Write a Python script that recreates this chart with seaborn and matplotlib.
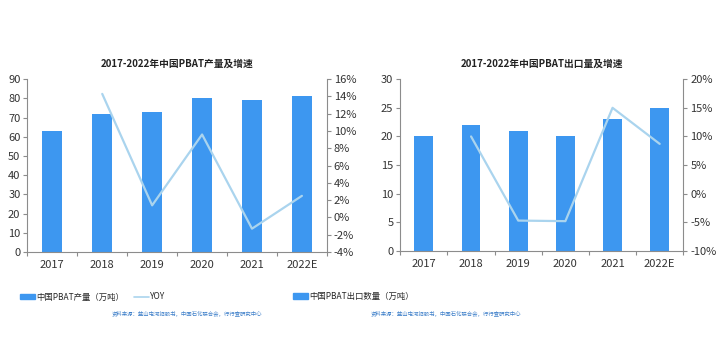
import numpy as np
import pandas as pd
import matplotlib
matplotlib.use("Agg")
import matplotlib.pyplot as plt
from matplotlib.patches import Patch
from matplotlib.lines import Line2D
import seaborn as sns

years = ["2017", "2018", "2019", "2020", "2021", "2022E"]
prod = [63, 72, 73, 80, 79, 81]
prod_yoy = [None, 14.3, 1.4, 9.6, -1.3, 2.5]
export = [20, 22, 21, 20, 23, 25]
export_yoy = [None, 10.0, -4.7, -4.8, 15.0, 8.7]

title_l = "2017-2022年中国PBAT产量及增速"
title_r = "2017-2022年中国PBAT出口量及增速"
leg_bar_l = "中国PBAT产量（万吨）"
leg_line_l = "YOY"
leg_bar_r = "中国PBAT出口数量（万吨）"
source = "资料来源：蓝山屯河招股书，中国石化联合会，行行查研究中心"

sns.set_theme(style="white")
plt.rcParams["font.family"] = ["Noto Sans CJK SC", "DejaVu Sans"]

BAR = "#3d97f0"
LINE = "#aad4ee"
SPINE = "#8c8c8c"
TXT = "#333333"

fig = plt.figure(figsize=(7.2, 3.6), dpi=100)


def panel(rect, vals, yoy, ylim, yticks, ylim2, yticks2, title):
    ax = fig.add_axes(rect)
    df = pd.DataFrame({"year": years, "v": vals})
    sns.barplot(data=df, x="year", y="v", color=BAR, width=0.4, ax=ax,
                saturation=1, linewidth=0)
    ax.set_ylim(*ylim)
    ax.set_yticks(yticks)
    ax.set_xlim(-0.5, len(years) - 0.5)
    ax.set_xlabel("")
    ax.set_ylabel("")
    ax2 = ax.twinx()
    dfl = pd.DataFrame({"x": np.arange(len(years)), "y": yoy}).dropna()
    sns.lineplot(data=dfl, x="x", y="y", color=LINE, lw=1.6, ax=ax2)
    ax2.set_ylim(*ylim2)
    ax2.set_yticks(yticks2)
    ax2.set_yticklabels([f"{t}%" for t in yticks2])
    ax2.set_ylabel("")
    ax2.set_xlim(-0.5, len(years) - 0.5)
    for a in (ax, ax2):
        a.spines["top"].set_visible(False)
        for s in ["left", "right", "bottom"]:
            a.spines[s].set_color(SPINE)
            a.spines[s].set_linewidth(0.8)
        a.tick_params(axis="y", labelsize=8, colors=SPINE, labelcolor=TXT,
                      length=3, width=0.8, pad=2)
    ax.spines["right"].set_visible(False)
    ax2.spines["left"].set_visible(False)
    ax2.spines["bottom"].set_visible(False)
    ax.tick_params(axis="y", direction="out", left=True)
    ax2.tick_params(axis="y", direction="out", right=True)
    ax.set_xticks(np.arange(-0.5, len(years)), minor=True)
    ax.tick_params(axis="x", which="major", length=0, labelsize=8,
                   labelcolor=TXT, pad=6)
    ax.tick_params(axis="x", which="minor", length=3, width=0.8,
                   color=SPINE, bottom=True)
    ax.set_title(title, fontsize=7, fontweight="bold", color="#222222",
                 pad=9)
    return ax, ax2


ax, ax2 = panel([0.038, 0.30, 0.416, 0.48], prod, prod_yoy, (0, 90),
                list(range(0, 91, 10)), (-4, 16), list(range(-4, 17, 2)),
                title_l)
ax.legend(handles=[Patch(color=BAR, label=leg_bar_l),
                   Line2D([], [], color=LINE, lw=1.2, label=leg_line_l)],
          loc="center left", bbox_to_anchor=(-0.025, -0.26), ncol=2,
          frameon=False, fontsize=6, handlelength=1.8, handleheight=0.6,
          columnspacing=1.2, handletextpad=0.15, borderaxespad=0,
          borderpad=0)
fig.text(0.155, 0.13, source, fontsize=3.9, color="#3d7fc9", va="center")

bx, bx2 = panel([0.556, 0.303, 0.393, 0.477], export, export_yoy, (0, 30),
                list(range(0, 31, 5)), (-10, 20), list(range(-10, 21, 5)),
                title_r)
bx.legend(handles=[Patch(color=BAR, label=leg_bar_r)],
          loc="center left", bbox_to_anchor=(-0.38, -0.265), ncol=1,
          frameon=False, fontsize=6, handlelength=1.8, handleheight=0.6,
          handletextpad=0.15, borderaxespad=0, borderpad=0)
fig.text(0.515, 0.13, source, fontsize=3.9, color="#3d7fc9", va="center")

fig.savefig("out.png", dpi=100, facecolor="white")
